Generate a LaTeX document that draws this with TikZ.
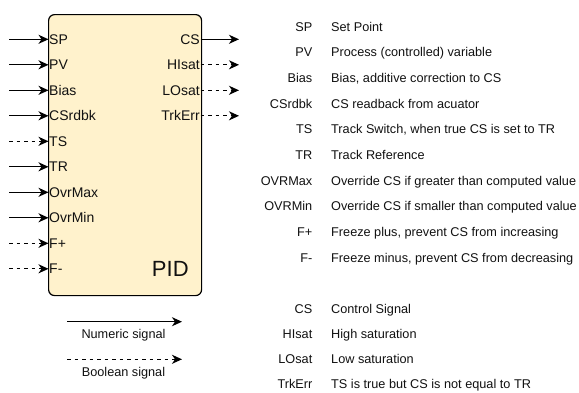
\documentclass[tikz,border=0pt]{standalone}
\usepackage{fontspec}
\setmainfont{Liberation Sans}
\usetikzlibrary{arrows.meta}
\definecolor{blockfill}{HTML}{FFF2CC}
\definecolor{txt}{HTML}{111111}
\tikzset{
  blockbox/.style={draw=black, line width=1.2pt, fill=blockfill, rounded corners=6pt,
    minimum width=153pt, minimum height=281pt, inner sep=0pt},
  portin/.style={anchor=west, inner sep=0.5pt, text height=10pt, text depth=0pt,
    font=\fontsize{14}{16}\selectfont, text=txt},
  portout/.style={anchor=east, inner sep=0.5pt, text height=10pt, text depth=0pt,
    font=\fontsize{14}{16}\selectfont, text=txt},
  keyname/.style={anchor=east, inner sep=0pt, text height=9.1pt, text depth=0pt,
    font=\fontsize{12.7}{14}\selectfont, text=txt},
  keydesc/.style={anchor=west, inner sep=0pt, text height=9.1pt, text depth=0pt,
    font=\fontsize{12.7}{14}\selectfont, text=txt},
  sigtip/.style={-{Stealth[length=10pt,width=9pt,inset=3pt]},
    line width=1.35pt},
  numsig/.style={sigtip},
  boolsig/.style={sigtip, dash pattern=on 3.5pt off 4pt},
}
\begin{document}
\begin{tikzpicture}[x=1pt, y=-1pt]
\useasboundingbox (0,0) rectangle (579,392);

% function block
\node[blockbox, anchor=north west] (pid) at (48,14) {};
\node[inner sep=0pt, text height=15.8pt, text depth=0pt, font=\fontsize{22}{24}\selectfont, text=txt]
  (pidname) at (170.3,268.8) {PID};

% inputs
\foreach \nm/\lbl/\yy/\kind in {
  SP/SP/39.3/numsig, PV/PV/64.8/numsig, Bias/Bias/90.3/numsig,
  CSrdbk/CSrdbk/115.8/numsig, TS/TS/141.3/boolsig, TR/TR/166.8/numsig,
  OvrMax/OvrMax/192.3/numsig, OvrMin/OvrMin/217.8/numsig,
  Fp/F+/243.3/boolsig, Fm/F-/268.8/boolsig}{
  \node[portin] (in\nm) at (48.5,\yy) {\lbl};
  \coordinate (src\nm) at (9,\yy);
  \draw[\kind] (src\nm) -- (in\nm.west);
}

% outputs
\foreach \nm/\lbl/\yy/\kind in {
  CS/CS/39.3/numsig, HIsat/HIsat/64.8/boolsig,
  LOsat/LOsat/90.3/boolsig, TrkErr/TrkErr/115.8/boolsig}{
  \node[portout] (out\nm) at (200.5,\yy) {\lbl};
  \coordinate (dst\nm) at (239,\yy);
  \draw[\kind] (out\nm.east) -- (dst\nm);
}

% signal glossary
\foreach \nm/\lbl/\desc/\yy in {
  SP/SP/Set Point/26.5,
  PV/PV/Process (controlled) variable/52.2,
  Bias/Bias/{Bias, additive correction to CS}/77.9,
  CSrdbk/CSrdbk/CS readback from acuator/103.6,
  TS/TS/{Track Switch, when true CS is set to TR}/129.3,
  TR/TR/Track Reference/155.0,
  OVRMax/OVRMax/Override CS if greater than computed value/180.7,
  OVRMin/OVRMin/Override CS if smaller than computed value/206.4,
  Fp/F+/{Freeze plus, prevent CS from increasing}/232.1,
  Fm/F-/{Freeze minus, prevent CS from decreasing}/257.8,
  CS/CS/Control Signal/309.3,
  HIsat/HIsat/High saturation/334.3,
  LOsat/LOsat/Low saturation/359.3,
  TrkErr/TrkErr/TS is true but CS is not equal to TR/384.3}{
  \node[keyname] (key\nm) at (312.5,\yy) {\lbl};
  \node[keydesc] (desc\nm) at (331,\yy) {\desc};
}

% line style legend
\coordinate (numA) at (67,321.7);
\coordinate (numB) at (182,321.7);
\draw[numsig] (numA) -- (numB);
\node[keydesc, anchor=center] (numtxt) at (123.5,333.5) {Numeric signal};
\coordinate (boolA) at (67,359.3);
\coordinate (boolB) at (182,359.3);
\draw[boolsig] (boolA) -- (boolB);
\node[keydesc, anchor=center] (booltxt) at (123.5,371.8) {Boolean signal};
\end{tikzpicture}
\end{document}
